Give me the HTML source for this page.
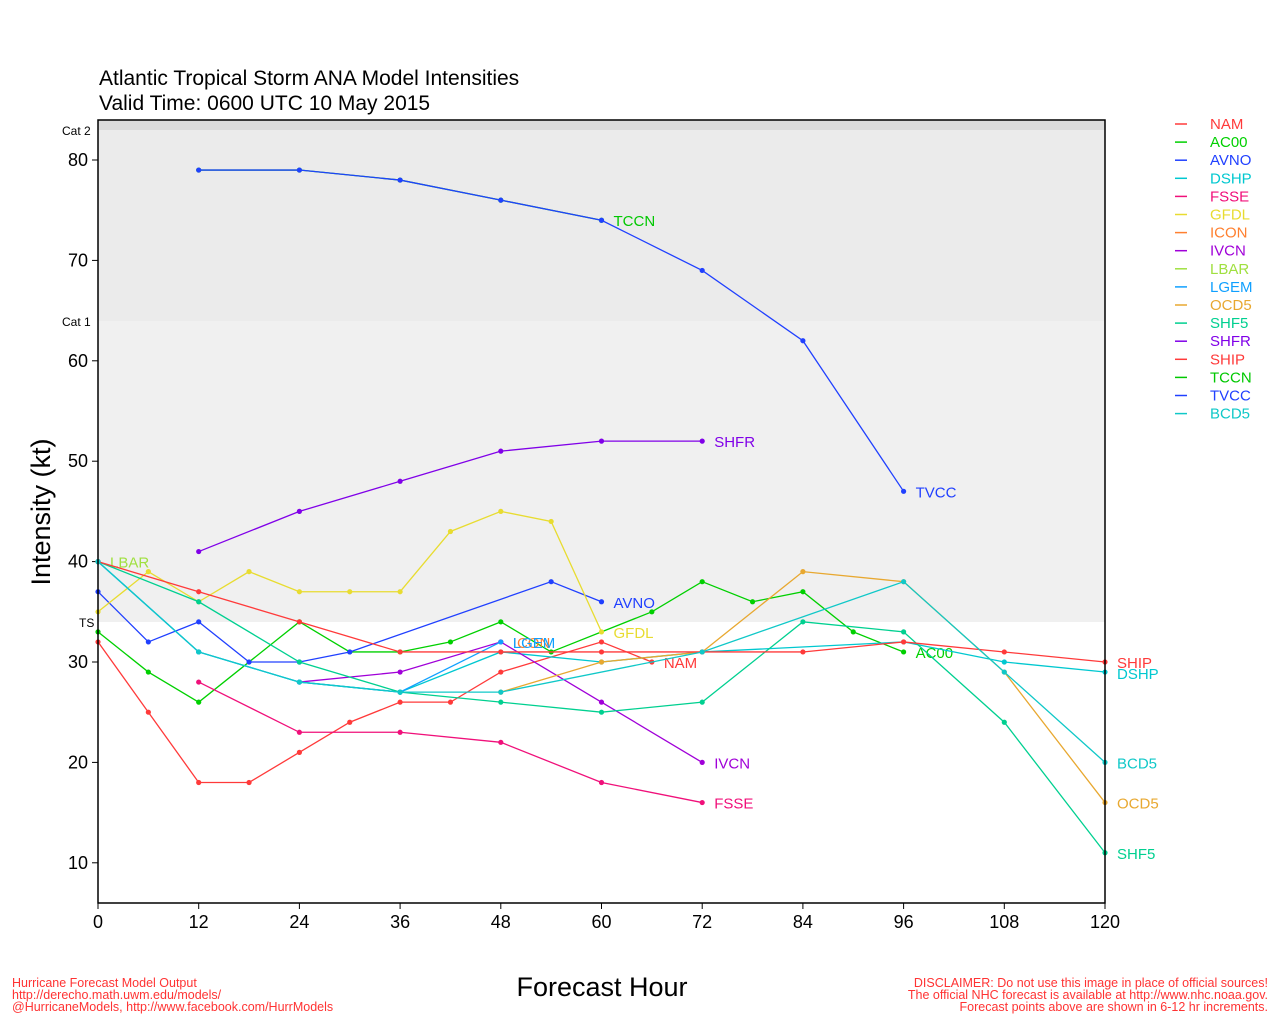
<!DOCTYPE html>
<html><head><meta charset="utf-8"><style>
body{margin:0;background:#fff;}
svg{display:block;font-family:"Liberation Sans",sans-serif;}
</style></head><body>
<svg id="s" width="1280" height="1024" xmlns="http://www.w3.org/2000/svg">
<rect x="98" y="120" width="1007" height="783" fill="#fff"/>
<rect x="98" y="120" width="1007" height="10" fill="#dcdcdc"/>
<rect x="98" y="130" width="1007" height="191" fill="#ebebeb"/>
<rect x="98" y="321" width="1007" height="301" fill="#f0f0f0"/>
<text x="99" y="85" font-size="21" fill="#000">Atlantic Tropical Storm ANA Model Intensities</text>
<text x="99" y="110" font-size="21" fill="#000">Valid Time: 0600 UTC 10 May 2015</text>
<text x="62" y="135" font-size="12">Cat 2</text>
<text x="62" y="326" font-size="12">Cat 1</text>
<text x="79" y="627" font-size="12">TS</text>
<text transform="translate(50,512) rotate(-90)" text-anchor="middle" font-size="27">Intensity (kt)</text>
<text x="602" y="996" text-anchor="middle" font-size="27">Forecast Hour</text>
<g font-size="12.5" fill="#ff3333">
<text x="12" y="987">Hurricane Forecast Model Output</text>
<text x="12" y="999">http://derecho.math.uwm.edu/models/</text>
<text x="12" y="1011">@HurricaneModels, http://www.facebook.com/HurrModels</text>
<text x="1268" y="987" text-anchor="end">DISCLAIMER: Do not use this image in place of official sources!</text>
<text x="1268" y="999" text-anchor="end">The official NHC forecast is available at http://www.nhc.noaa.gov.</text>
<text x="1268" y="1011" text-anchor="end">Forecast points above are shown in 6-12 hr increments.</text>
</g>
<g id="ax"></g>
<g id="ser"></g>
<rect x="98" y="120" width="1007" height="783" fill="none" stroke="#000" stroke-width="1.5"/>
</svg>
<script>
var NS="http://www.w3.org/2000/svg";
function X(h){return 98+h*1007/120;}
function Y(v){return 160+(80-v)*10.04;}
function el(p,t,a,txt){var e=document.createElementNS(NS,t);for(var k in a)e.setAttribute(k,a[k]);if(txt!=null)e.textContent=txt;p.appendChild(e);return e;}
var ax=document.getElementById('ax');
for(var h=0;h<=120;h+=12){el(ax,'line',{x1:X(h),x2:X(h),y1:903,y2:909,stroke:'#000'});el(ax,'text',{x:X(h),y:928,'text-anchor':'middle','font-size':18},h);}
for(var v=10;v<=80;v+=10){el(ax,'line',{x1:92,x2:98,y1:Y(v),y2:Y(v),stroke:'#000'});el(ax,'text',{x:88,y:Y(v)+6,'text-anchor':'end','font-size':18},v);}
var S=[
["NAM","#ff3a3a",[[0,32],[6,25],[12,18],[18,18],[24,21],[30,24],[36,26],[42,26],[48,29],[60,32],[66,30]],1],
["AC00","#00d000",[[0,33],[6,29],[12,26],[24,34],[30,31],[36,31],[42,32],[48,34],[54,31],[66,35],[72,38],[78,36],[84,37],[90,33],[96,31]],1],
["AVNO","#2040ff",[[0,37],[6,32],[12,34],[18,30],[24,30],[30,31],[54,38],[60,36]],1],
["DSHP","#00c8d0",[[0,40],[12,31],[24,28],[36,27],[48,31],[60,30],[72,31],[96,32],[108,30],[120,29]],1],
["FSSE","#f0107a",[[12,28],[24,23],[36,23],[48,22],[60,18],[72,16]],1],
["GFDL","#e8dc30",[[0,35],[6,39],[12,36],[18,39],[24,37],[30,37],[36,37],[42,43],[48,45],[54,44],[60,33]],1],
["ICON","#ff8030",[[48,32]],0],
["IVCN","#a000d8",[[24,28],[36,29],[48,32],[60,26],[72,20]],1],
["LBAR","#a0e040",[[0,40]],1],
["LGEM","#10a0ff",[[0,40],[12,31],[24,28],[36,27],[48,32]],1],
["OCD5","#e8a830",[[48,27],[60,30],[72,31],[84,39],[96,38],[108,29],[120,16]],1],
["SHF5","#00d090",[[0,40],[12,36],[24,30],[36,27],[48,26],[60,25],[72,26],[84,34],[96,33],[108,24],[120,11]],1],
["SHFR","#8000e8",[[12,41],[24,45],[36,48],[48,51],[60,52],[72,52]],1],
["SHIP","#ff3a3a",[[0,40],[12,37],[24,34],[36,31],[48,31],[60,31],[72,31],[84,31],[96,32],[108,31],[120,30]],1],
["TCCN","#00c800",[[12,79],[24,79],[36,78],[48,76],[60,74]],1],
["TVCC","#2040ff",[[12,79],[24,79],[36,78],[48,76],[60,74],[72,69],[84,62],[96,47]],1],
["BCD5","#10c8c8",[[0,40],[12,31],[24,28],[36,27],[48,27],[72,31],[96,38],[108,29],[120,20]],1]
];
var g=document.getElementById('ser');
S.forEach(function(s,i){
 var pts=s[2].map(function(p){return X(p[0])+','+Y(p[1]);}).join(' ');
 if(s[2].length>1)el(g,'polyline',{points:pts,fill:'none',stroke:s[1],'stroke-width':1.3});
 s[2].forEach(function(p){el(g,'circle',{cx:X(p[0]),cy:Y(p[1]),r:2.6,fill:s[1]});});
 var L=s[2][s[2].length-1];
 var lx=X(L[0])+12, ly=Y(L[1])+6;
 if(s[0]=="ICON")lx=X(48)+12;
 if(s[0]=="DSHP")ly+=1;
 el(g,'text',{x:lx,y:ly,'font-size':15,fill:s[1]},s[0]);
 var yy=124+i*18.1;
 el(g,'line',{x1:1175,x2:1187,y1:yy,y2:yy,stroke:s[1],'stroke-width':1.5});
 el(g,'text',{x:1210,y:yy+5,'font-size':15,fill:s[1]},s[0]);
});
</script>
</body></html>
